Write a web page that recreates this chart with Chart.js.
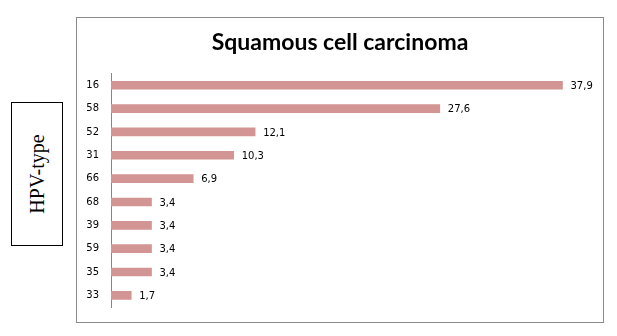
<!DOCTYPE html>
<html lang="en">
  <head>
    <meta charset="UTF-8" />
    <title>Squamous cell carcinoma</title>
    <style>
      * {
        margin: 0;
        padding: 0;
        box-sizing: border-box;
      }

      body {
        width: 617px;
        height: 336px;
        background: #ffffff;
        position: relative;
        overflow: hidden;
      }

      .hpv {
        position: absolute;
        left: 11px;
        top: 102px;
        width: 52px;
        height: 144px;
        border: 1px solid #000000;
      }

      .hpv span {
        position: absolute;
        left: 50%;
        top: 50%;
        transform: translate(-50%, -50%) rotate(-90deg);
        font-family: "Liberation Serif", "Times New Roman", serif;
        font-size: 20px;
        color: #000000;
        white-space: nowrap;
      }

      .box {
        position: absolute;
        left: 76px;
        top: 17px;
        width: 528px;
        height: 306px;
        border: 1px solid #8a8a8a;
      }

      .box canvas {
        position: absolute;
        left: 0;
        top: 0;
      }
    </style>
  </head>
  <body>
    <div class="hpv"><span>HPV-type</span></div>
    <div class="box">
      <canvas id="myChart" width="526" height="304"></canvas>
    </div>

    <script src="https://cdn.jsdelivr.net/npm/chart.js"></script>
    <script>
      const tipos = ["16", "58", "52", "31", "66", "68", "39", "59", "35", "33"];
      const porcentajes = [37.9, 27.6, 12.1, 10.3, 6.9, 3.4, 3.4, 3.4, 3.4, 1.7];
      const titulo = "Squamous cell carcinoma";

      // etiquetas de valor al final de cada barra (coma decimal)
      const etiquetas = {
        id: "etiquetas",
        afterDatasetsDraw(chart) {
          const ctx = chart.ctx;
          const meta = chart.getDatasetMeta(0);
          ctx.save();
          ctx.font = '10px "DejaVu Sans"';
          ctx.fillStyle = "#000000";
          ctx.textAlign = "left";
          ctx.textBaseline = "middle";
          meta.data.forEach((bar, i) => {
            const txt = porcentajes[i].toFixed(1).replace(".", ",");
            ctx.fillText(txt, bar.x + 8, bar.y + 1);
          });
          ctx.restore();
        },
      };

      var ctx = document.getElementById("myChart").getContext("2d");
      var miGrafico = new Chart(ctx, {
        type: "bar",
        data: {
          labels: tipos,
          datasets: [
            {
              data: porcentajes,
              backgroundColor: "#d39593",
              borderWidth: 0,
              barThickness: 8,
            },
          ],
        },
        options: {
          indexAxis: "y",
          responsive: false,
          animation: false,
          layout: {
            padding: { left: 0, right: 0, top: 0, bottom: 15 },
          },
          plugins: {
            legend: { display: false },
            tooltip: { enabled: false },
            title: {
              display: true,
              text: titulo,
              color: "#000000",
              font: { family: "Lato", size: 23, weight: "bold" },
              padding: { top: 11, bottom: 17 },
            },
          },
          scales: {
            x: {
              display: false,
              min: 0,
              max: 41.3,
            },
            y: {
              // separacion de las etiquetas con tickLength para no inflar el margen
              grid: { display: false, drawTicks: true, tickLength: 12 },
              border: { display: true, color: "#868686", width: 1 },
              ticks: {
                color: "#000000",
                padding: 0,
                font: { family: "DejaVu Sans", size: 10 },
              },
              afterFit(scale) {
                scale.width = 34;
              },
            },
          },
        },
        plugins: [etiquetas],
      });
    </script>
  </body>
</html>
